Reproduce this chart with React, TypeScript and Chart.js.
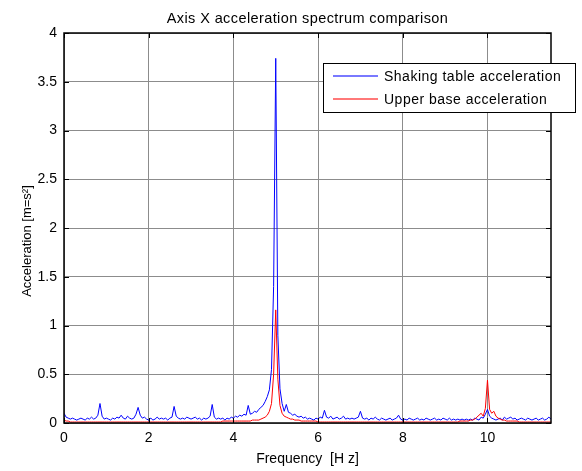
import React, { useEffect, useRef } from "react";
import { Chart, registerables } from "chart.js";

Chart.register(...registerables);

const chartTitle = "Axis X acceleration spectrum comparison";
const xTitle = "Frequency  [H z]";
const yTitle = "Acceleration [m=s²]";
const seriesNames = ["Shaking table acceleration", "Upper base acceleration"];
const freqStep = 0.05; // Hz between spectrum samples, starting at 0 Hz
const xTicks = [0, 2, 4, 6, 8, 10];
const yTicks = [0, 0.5, 1, 1.5, 2, 2.5, 3, 3.5, 4];

// Shaking table acceleration spectrum, one row per Hz (0.05 Hz steps)
const shakingTable = [
  0.10, 0.06, 0.05, 0.04, 0.05, 0.04, 0.03, 0.04, 0.05, 0.04, 0.03, 0.05, 0.04, 0.06, 0.04, 0.05, 0.08, 0.20, 0.07, 0.04,
  0.05, 0.04, 0.03, 0.05, 0.04, 0.06, 0.05, 0.08, 0.05, 0.04, 0.07, 0.05, 0.04, 0.05, 0.09, 0.16, 0.08, 0.05, 0.06, 0.04,
  0.03, 0.05, 0.03, 0.04, 0.06, 0.04, 0.05, 0.04, 0.05, 0.03, 0.05, 0.06, 0.17, 0.07, 0.05, 0.04, 0.05, 0.04, 0.06, 0.05,
  0.04, 0.05, 0.06, 0.04, 0.05, 0.03, 0.05, 0.04, 0.05, 0.07, 0.19, 0.06, 0.04, 0.05, 0.04, 0.05, 0.03, 0.05, 0.04, 0.06,
  0.05, 0.07, 0.06, 0.08, 0.07, 0.09, 0.08, 0.18, 0.09, 0.10, 0.12, 0.11, 0.14, 0.16, 0.18, 0.22, 0.27, 0.34, 0.55, 1.40,
  3.74, 0.90, 0.35, 0.20, 0.12, 0.19, 0.11, 0.10, 0.08, 0.09, 0.07, 0.06, 0.07, 0.05, 0.06, 0.04, 0.05, 0.04, 0.03, 0.05,
  0.04, 0.06, 0.05, 0.13, 0.06, 0.05, 0.07, 0.04, 0.05, 0.06, 0.04, 0.05, 0.07, 0.04, 0.05, 0.04, 0.05, 0.04, 0.05, 0.06,
  0.12, 0.05, 0.04, 0.05, 0.03, 0.05, 0.04, 0.06, 0.04, 0.03, 0.05, 0.04, 0.03, 0.04, 0.05, 0.03, 0.04, 0.05, 0.08, 0.04,
  0.03, 0.04, 0.03, 0.05, 0.04, 0.03, 0.04, 0.05, 0.03, 0.04, 0.03, 0.05, 0.04, 0.03, 0.04, 0.05, 0.03, 0.04, 0.03, 0.05,
  0.04, 0.03, 0.05, 0.03, 0.04, 0.03, 0.04, 0.03, 0.04, 0.03, 0.04, 0.03, 0.04, 0.03, 0.05, 0.04, 0.03, 0.06, 0.05, 0.09,
  0.14, 0.07, 0.05, 0.04, 0.03, 0.04, 0.05, 0.03, 0.06, 0.04, 0.05, 0.06, 0.04, 0.05, 0.03, 0.04, 0.05, 0.04, 0.03, 0.05,
  0.04, 0.03, 0.04, 0.05, 0.03, 0.04, 0.05, 0.03, 0.04, 0.06, 0.04,
];

// Upper base acceleration spectrum, one row per Hz (0.05 Hz steps)
const upperBase = [
  0.03, 0.02, 0.02, 0.01, 0.01, 0.01, 0.01, 0.01, 0.01, 0.01, 0.01, 0.01, 0.01, 0.01, 0.01, 0.01, 0.01, 0.01, 0.01, 0.01,
  0.01, 0.01, 0.01, 0.01, 0.01, 0.01, 0.01, 0.01, 0.01, 0.01, 0.01, 0.01, 0.01, 0.01, 0.01, 0.01, 0.01, 0.01, 0.01, 0.01,
  0.01, 0.01, 0.01, 0.01, 0.01, 0.01, 0.01, 0.01, 0.01, 0.01, 0.01, 0.01, 0.01, 0.01, 0.01, 0.01, 0.01, 0.01, 0.01, 0.01,
  0.01, 0.01, 0.01, 0.01, 0.01, 0.01, 0.01, 0.01, 0.01, 0.01, 0.01, 0.01, 0.01, 0.01, 0.01, 0.02, 0.02, 0.02, 0.02, 0.02,
  0.02, 0.02, 0.02, 0.02, 0.02, 0.02, 0.02, 0.02, 0.02, 0.03, 0.03, 0.03, 0.03, 0.04, 0.05, 0.06, 0.08, 0.12, 0.20, 0.50,
  1.16, 0.45, 0.18, 0.10, 0.07, 0.06, 0.05, 0.04, 0.04, 0.03, 0.03, 0.03, 0.02, 0.02, 0.02, 0.02, 0.02, 0.02, 0.02, 0.02,
  0.01, 0.01, 0.01, 0.01, 0.01, 0.01, 0.01, 0.01, 0.01, 0.01, 0.01, 0.01, 0.01, 0.01, 0.01, 0.01, 0.01, 0.01, 0.01, 0.01,
  0.01, 0.01, 0.01, 0.01, 0.01, 0.01, 0.01, 0.01, 0.01, 0.01, 0.01, 0.01, 0.01, 0.01, 0.01, 0.01, 0.01, 0.01, 0.01, 0.01,
  0.01, 0.01, 0.01, 0.01, 0.01, 0.01, 0.01, 0.01, 0.01, 0.01, 0.01, 0.01, 0.01, 0.01, 0.01, 0.01, 0.01, 0.01, 0.01, 0.01,
  0.01, 0.01, 0.01, 0.01, 0.01, 0.01, 0.01, 0.02, 0.02, 0.02, 0.02, 0.02, 0.03, 0.03, 0.04, 0.06, 0.08, 0.10, 0.07, 0.15,
  0.44, 0.14, 0.10, 0.12, 0.07, 0.05, 0.04, 0.03, 0.03, 0.02, 0.02, 0.02, 0.02, 0.02, 0.02, 0.01, 0.01, 0.01, 0.01, 0.01,
  0.01, 0.01, 0.01, 0.01, 0.01, 0.01, 0.01, 0.01, 0.01, 0.01, 0.01,
];

const xMax = 11.5;
const yMax = 4;

const FONT = "'Liberation Sans', Arial, Helvetica, sans-serif";

const toPoints = (vals: number[]) => vals.map((v, i) => ({ x: +(i * freqStep).toFixed(2), y: v }));

const framePlugin = {
  id: "matlabFrame",
  afterDatasetsDraw(chart: any) {
    const { ctx, chartArea } = chart;
    const { left, right, top, bottom } = chartArea;
    const xs = chart.scales.x;
    const ys = chart.scales.y;
    ctx.save();
    ctx.strokeStyle = "#000";
    ctx.lineWidth = 1;
    ctx.beginPath();
    xTicks.forEach((t) => {
      const px = Math.round(xs.getPixelForValue(t)) + 0.5;
      ctx.moveTo(px, bottom);
      ctx.lineTo(px, bottom - 5);
      ctx.moveTo(px, top);
      ctx.lineTo(px, top + 5);
    });
    yTicks.forEach((t) => {
      const py = Math.round(ys.getPixelForValue(t)) + 0.5;
      ctx.moveTo(left, py);
      ctx.lineTo(left + 5, py);
      ctx.moveTo(right, py);
      ctx.lineTo(right - 5, py);
    });
    ctx.stroke();
    ctx.lineWidth = 1.5;
    ctx.strokeRect(left, top, right - left, bottom - top);
    ctx.restore();
  },
  afterDraw(chart: any) {
    const { ctx, chartArea } = chart;
    ctx.save();
    ctx.fillStyle = "#000";
    // title
    ctx.font = `14.5px ${FONT}`;
    (ctx as any).letterSpacing = "0.4px";
    ctx.textAlign = "center";
    ctx.textBaseline = "middle";
    ctx.fillText(chartTitle, (chartArea.left + chartArea.right) / 2, 19);
    // y axis title
    ctx.save();
    ctx.translate(27, 241);
    ctx.rotate(-Math.PI / 2);
    (ctx as any).letterSpacing = "0px";
    ctx.font = `13px ${FONT}`;
    ctx.fillText(yTitle, 0, 0);
    ctx.restore();
    // legend
    const lx = 323, ly = 63, lw = 252, lh = 49;
    ctx.fillStyle = "#fff";
    ctx.fillRect(lx, ly, lw, lh);
    ctx.strokeStyle = "#000";
    ctx.lineWidth = 1;
    ctx.strokeRect(lx + 0.5, ly + 0.5, lw, lh);
    const colors = ["#4d4dff", "#ff4d4d"];
    const rows = [76, 99];
    ctx.font = `14px ${FONT}`;
    (ctx as any).letterSpacing = "0.5px";
    ctx.textAlign = "left";
    ctx.textBaseline = "middle";
    rows.forEach((y, i) => {
      ctx.strokeStyle = colors[i];
      ctx.lineWidth = 1.5;
      ctx.beginPath();
      ctx.moveTo(333, y);
      ctx.lineTo(378, y);
      ctx.stroke();
      ctx.fillStyle = "#000";
      ctx.fillText(seriesNames[i], 384, y + 1);
    });
    ctx.restore();
  },
};

export default function App() {
  const ref = useRef<HTMLCanvasElement | null>(null);
  useEffect(() => {
    if (!ref.current) return;
    const chart = new Chart(ref.current, {
      type: "line",
      data: {
        datasets: [
          {
            label: seriesNames[0],
            data: toPoints(shakingTable),
            borderColor: "#0000ff",
            borderWidth: 1,
            pointRadius: 0,
            tension: 0,
            order: 2,
          },
          {
            label: seriesNames[1],
            data: toPoints(upperBase),
            borderColor: "#ff0000",
            borderWidth: 1,
            pointRadius: 0,
            tension: 0,
            order: 1,
          },
        ],
      },
      options: {
        animation: false,
        responsive: false,
        parsing: false,
        layout: { padding: { top: 33, right: 31, left: 0, bottom: 0 } },
        plugins: {
          legend: { display: false },
          title: { display: false },
          tooltip: { enabled: false },
        },
        scales: {
          x: {
            type: "linear",
            min: 0,
            max: xMax,
            afterFit: (s: any) => { s.height = 48; },
            afterBuildTicks: (s: any) => { s.ticks = xTicks.map((v) => ({ value: v })); },
            ticks: {
              color: "#000",
              font: { family: FONT, size: 14 },
              padding: 7,
              maxRotation: 0,
              callback: (v: any) => String(v),
            },
            grid: { color: "#8c8c8c", lineWidth: 1, drawTicks: false },
            border: { display: false },
            title: {
              display: true,
              text: xTitle,
              color: "#000",
              font: { family: FONT, size: 14 },
              padding: { top: 0, bottom: 3 },
            },
          },
          y: {
            type: "linear",
            min: 0,
            max: yMax,
            afterFit: (s: any) => { s.width = 64; },
            afterBuildTicks: (s: any) => { s.ticks = yTicks.map((v) => ({ value: v })); },
            ticks: {
              color: "#000",
              font: { family: FONT, size: 14 },
              padding: 7,
              callback: (v: any) => String(v),
            },
            grid: { color: "#8c8c8c", lineWidth: 1, drawTicks: false },
            border: { display: false },
            title: { display: false },
          },
        },
      },
      plugins: [framePlugin],
    } as any);
    return () => chart.destroy();
  }, []);
  return (
    <div style={{ position: "absolute", left: 0, top: 0, width: 582, height: 471, background: "#fff" }}>
      <canvas ref={ref} width={582} height={471} />
    </div>
  );
}
